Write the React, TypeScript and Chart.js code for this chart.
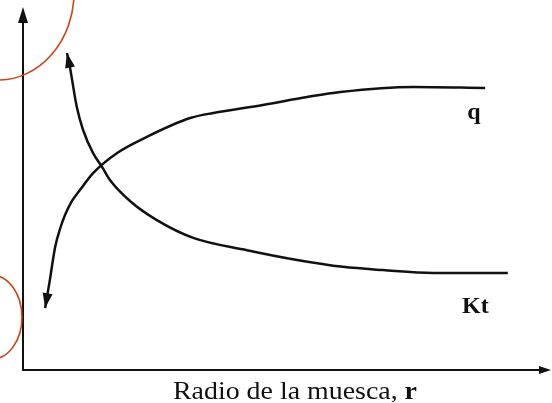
import React, { useEffect, useRef } from "react";
import { Chart, registerables } from "chart.js";

Chart.register(...registerables);

// Notch radius r (arbitrary units, 0..100) and curve values (0..100)
const ktRadius = [8.35, 8.9, 10.2, 11.4, 13.3, 15.0, 16.5, 20.3, 25.4, 32.3, 42.5, 52.0, 60.7, 68.3, 77.8, 92.0];
const ktValues = [87.6, 83.7, 72.7, 66.3, 59.9, 56.1, 52.5, 46.7, 41.4, 36.5, 33.1, 30.4, 28.5, 27.6, 26.8, 26.8];

const qRadius = [4.2, 5.1, 6.1, 7.02, 7.97, 9.3, 10.8, 13.3, 17.8, 23.5, 31.7, 36.1, 45.5, 53.9, 60.2, 74.0, 87.7];
const qValues = [17.1, 24.9, 34.0, 38.95, 42.8, 46.7, 49.7, 54.4, 59.9, 64.4, 69.6, 71.0, 73.2, 75.4, 76.8, 78.2, 77.9];

const seriesLabels = ["q", "Kt"];
const labelPos = [
  { x: 84.3, y: 69.3 },
  { x: 83.3, y: 15.7 },
];
const axisTitle = "Radio de la muesca, ";
const axisTitleBold = "r";

// red hand-drawn annotation ellipses (data units)
const redMarks = [
  { cx: -4.7, cy: 104.4, rx: 14.4, ry: 24.3 },
  { cx: -5.9, cy: 14.6, rx: 5.7, ry: 11.6 },
];

function arrowHead(ctx: CanvasRenderingContext2D, tipX: number, tipY: number, fromX: number, fromY: number, len: number, half: number) {
  const ang = Math.atan2(tipY - fromY, tipX - fromX);
  const bx = tipX - Math.cos(ang) * len;
  const by = tipY - Math.sin(ang) * len;
  const nx = -Math.sin(ang);
  const ny = Math.cos(ang);
  ctx.beginPath();
  ctx.moveTo(tipX, tipY);
  ctx.lineTo(bx + nx * half, by + ny * half);
  ctx.lineTo(bx - nx * half, by - ny * half);
  ctx.closePath();
  ctx.fill();
}

const decorPlugin = {
  id: "decor",
  afterDatasetsDraw(chart: any) {
    const ctx: CanvasRenderingContext2D = chart.ctx;
    const { left, right, top, bottom } = chart.chartArea;
    const xs = chart.scales.x;
    const ys = chart.scales.y;
    ctx.save();
    ctx.fillStyle = "#111";
    ctx.strokeStyle = "#111";
    // axes
    ctx.lineWidth = 2;
    ctx.beginPath();
    ctx.moveTo(left, bottom);
    ctx.lineTo(left, top + 10);
    ctx.moveTo(left - 1, bottom);
    ctx.lineTo(right - 10, bottom);
    ctx.stroke();
    arrowHead(ctx, left, top - 1, left, bottom, 16, 5);
    arrowHead(ctx, right + 1, bottom, left, bottom, 12, 4);
    // arrowheads at curve starts
    chart.data.datasets.forEach((_: any, i: number) => {
      const meta = chart.getDatasetMeta(i);
      const p0 = meta.data[0];
      const p1 = meta.data[1];
      arrowHead(ctx, p0.x, p0.y, p1.x, p1.y, 15, 5);
    });
    // red annotation ellipses
    ctx.strokeStyle = "#c9441c";
    ctx.lineWidth = 1.6;
    redMarks.forEach((m) => {
      const cx = xs.getPixelForValue(m.cx);
      const cy = ys.getPixelForValue(m.cy);
      const rx = Math.abs(xs.getPixelForValue(m.cx + m.rx) - cx);
      const ry = Math.abs(ys.getPixelForValue(m.cy + m.ry) - cy);
      ctx.beginPath();
      ctx.ellipse(cx, cy, rx, ry, 0, 0, Math.PI * 2);
      ctx.stroke();
    });
    // series labels
    ctx.fillStyle = "#111";
    ctx.font = "bold 24px 'Liberation Serif', serif";
    ctx.textBaseline = "alphabetic";
    ctx.textAlign = "left";
    seriesLabels.forEach((t, i) => {
      ctx.fillText(t, xs.getPixelForValue(labelPos[i].x), ys.getPixelForValue(labelPos[i].y));
    });
    // axis title
    const reg = "26px 'Liberation Serif', serif";
    const bold = "bold 26px 'Liberation Serif', serif";
    ctx.font = reg;
    const w1 = ctx.measureText(axisTitle).width;
    ctx.font = bold;
    const w2 = ctx.measureText(axisTitleBold).width;
    const targetW = 244;
    const sx = targetW / (w1 + w2);
    const startX = 173;
    const baseY = bottom + 29;
    ctx.translate(startX, baseY);
    ctx.scale(sx, 1);
    ctx.font = reg;
    ctx.fillText(axisTitle, 0, 0);
    ctx.font = bold;
    ctx.fillText(axisTitleBold, w1, 0);
    ctx.restore();
  },
};

export default function App() {
  const ref = useRef<HTMLCanvasElement>(null);
  useEffect(() => {
    if (!ref.current) return;
    const mk = (xsArr: number[], ysArr: number[]) => xsArr.map((x, i) => ({ x, y: ysArr[i] }));
    const chart = new Chart(ref.current, {
      type: "scatter",
      data: {
        datasets: [
          {
            label: "q",
            data: mk(qRadius, qValues),
            showLine: true,
            borderColor: "#111",
            borderWidth: 2.5,
            pointRadius: 0,
            cubicInterpolationMode: "monotone",
          },
          {
            label: "Kt",
            data: mk(ktRadius, ktValues),
            showLine: true,
            borderColor: "#111",
            borderWidth: 2.5,
            pointRadius: 0,
            cubicInterpolationMode: "monotone",
          },
        ],
      },
      options: {
        responsive: false,
        animation: false,
        devicePixelRatio: 1,
        layout: { padding: { left: 23, top: 8, right: 2, bottom: 33 } },
        plugins: { legend: { display: false }, tooltip: { enabled: false } },
        scales: {
          x: { type: "linear", min: 0, max: 100, display: false },
          y: { type: "linear", min: 0, max: 100, display: false },
        },
      },
      plugins: [decorPlugin],
    });
    return () => chart.destroy();
  }, []);
  return (
    <div style={{ position: "absolute", left: 0, top: 0, width: 552, height: 403, background: "#fff" }}>
      <canvas ref={ref} width={552} height={403} />
    </div>
  );
}
